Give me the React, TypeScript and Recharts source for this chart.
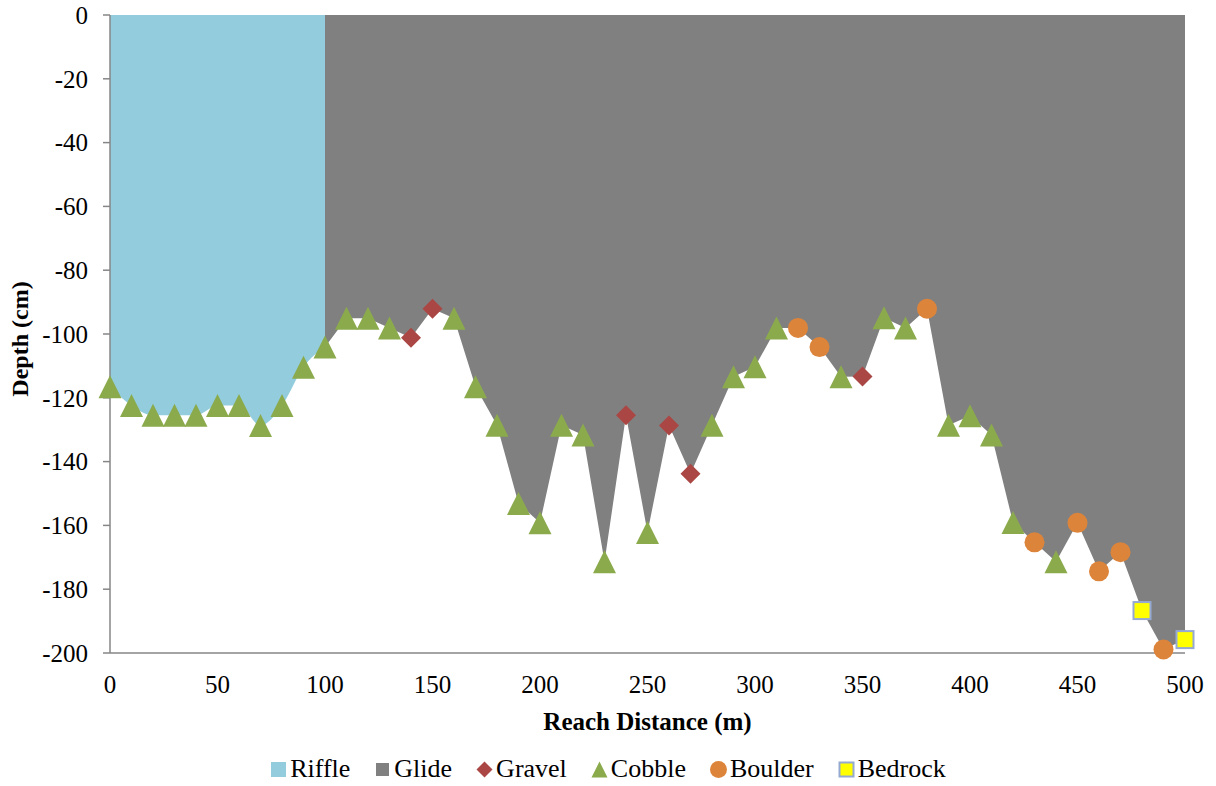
import React from "react"
import { ComposedChart, Area, Scatter, XAxis, YAxis, Legend, Label } from "recharts"

// survey stations along the reach (m)
const distance = [
  0, 10, 20, 30, 40, 50, 60, 70, 80, 90, 100, 110, 120, 130, 140, 150, 160,
  170, 180, 190, 200, 210, 220, 230, 240, 250, 260, 270, 280, 290, 300, 310,
  320, 330, 340, 350, 360, 370, 380, 390, 400, 410, 420, 430, 440, 450, 460,
  470, 480, 490, 500,
]

// water depth at each station (cm, negative = below surface)
const depth = [
  -116.5, -122.4, -125.5, -125.5, -125.5, -122.4, -122.4, -128.7, -122.4,
  -110.4, -104.1, -95.1, -95.1, -98.1, -101.2, -92.1, -95.1, -116.5, -128.6,
  -153.1, -159.2, -128.6, -131.7, -171.4, -125.5, -162.2, -128.7, -143.8,
  -128.6, -113.4, -110.3, -98.1, -98.1, -104.1, -113.4, -113.3, -94.9, -98.1,
  -92.1, -128.6, -125.6, -131.7, -159.1, -165.3, -171.4, -159.2, -174.4,
  -168.4, -186.7, -198.9, -195.8,
]

// bed material at each station
const substrate = [
  "Cobble", "Cobble", "Cobble", "Cobble", "Cobble", "Cobble", "Cobble",
  "Cobble", "Cobble", "Cobble", "Cobble", "Cobble", "Cobble", "Cobble",
  "Gravel", "Gravel", "Cobble", "Cobble", "Cobble", "Cobble", "Cobble",
  "Cobble", "Cobble", "Cobble", "Gravel", "Cobble", "Gravel", "Gravel",
  "Cobble", "Cobble", "Cobble", "Cobble", "Boulder", "Boulder", "Cobble",
  "Gravel", "Cobble", "Cobble", "Boulder", "Cobble", "Cobble", "Cobble",
  "Cobble", "Boulder", "Cobble", "Boulder", "Boulder", "Boulder", "Bedrock",
  "Boulder", "Bedrock",
]

const riffleEnd = 100 // riffle runs 0-100 m, glide after that

const xTicks = [0, 50, 100, 150, 200, 250, 300, 350, 400, 450, 500]
const yTicks = [0, -20, -40, -60, -80, -100, -120, -140, -160, -180, -200]

const FONT = "'Liberation Serif', 'Times New Roman', serif"
const AXIS = "#868686"

const COLORS = {
  Riffle: "#93CDDD",
  Glide: "#808080",
  Gravel: "#AA4643",
  Cobble: "#8BAA4C",
  Boulder: "#DD843B",
  Bedrock: "#FFFF00",
}

const rows = distance.map((x, i) => ({
  x,
  riffle: x <= riffleEnd ? depth[i] : null,
  glide: x >= riffleEnd ? depth[i] : null,
}))

const pointsFor = (kind: string) =>
  distance
    .map((x, i) => ({ x, y: depth[i], kind: substrate[i] }))
    .filter((p) => p.kind === kind)

// marker shapes; `half` is half the marker width in px
const Diamond = ({ cx, cy, half = 10 }: any) => (
  <path
    d={`M${cx},${cy - half} L${cx + half},${cy} L${cx},${cy + half} L${cx - half},${cy} Z`}
    fill={COLORS.Gravel}
  />
)

const Triangle = ({ cx, cy, half = 11.5 }: any) => (
  <path
    d={`M${cx},${cy - half} L${cx + half},${cy + half} L${cx - half},${cy + half} Z`}
    fill={COLORS.Cobble}
  />
)

const Dot = ({ cx, cy, half = 10 }: any) => (
  <circle cx={cx} cy={cy} r={half} fill={COLORS.Boulder} />
)

const Square = ({ cx, cy, half = 8.5 }: any) => (
  <rect
    x={cx - half}
    y={cy - half}
    width={half * 2}
    height={half * 2}
    fill={COLORS.Bedrock}
    stroke="#95A9D3"
    strokeWidth={2}
  />
)

const legendItems = [
  { name: "Riffle", icon: <rect x={1} y={1} width={15} height={15} fill={COLORS.Riffle} /> },
  { name: "Glide", icon: <rect x={2} y={2} width={13} height={13} fill={COLORS.Glide} /> },
  { name: "Gravel", icon: <Diamond cx={8.5} cy={8.5} half={8} /> },
  { name: "Cobble", icon: <Triangle cx={8.5} cy={8.5} half={8} /> },
  { name: "Boulder", icon: <Dot cx={8.5} cy={8.5} half={8.5} /> },
  { name: "Bedrock", icon: <Square cx={8.5} cy={8.5} half={7} /> },
]

const SubstrateLegend = () => (
  <div
    style={{
      display: "flex",
      justifyContent: "center",
      alignItems: "center",
      gap: 24,
      fontFamily: FONT,
      fontSize: 26,
      color: "#000",
    }}
  >
    {legendItems.map((item) => (
      <span key={item.name} style={{ display: "flex", alignItems: "center", gap: 3 }}>
        <svg width={17} height={17}>
          {item.icon}
        </svg>
        <span>{item.name}</span>
      </span>
    ))}
  </div>
)

const DepthLabel = () => (
  <text
    x={20}
    y={339}
    transform="rotate(-90, 20, 339)"
    textAnchor="middle"
    dominantBaseline="central"
    fontFamily={FONT}
    fontSize={24}
    fontWeight="bold"
    fill="#000"
  >
    Depth (cm)
  </text>
)

const tickStyle = { fontFamily: FONT, fontSize: 25, fill: "#000" }

export default function App() {
  return (
    <div style={{ position: "absolute", left: 0, top: 0 }}>
      <ComposedChart
        width={1216}
        height={786}
        data={rows}
        margin={{ top: 15, right: 31, bottom: 43, left: 0 }}
      >
        <XAxis
          dataKey="x"
          type="number"
          domain={[0, 500]}
          ticks={xTicks}
          interval={0}
          height={90}
          stroke={AXIS}
          strokeWidth={1.5}
          tickLine={false}
          tickSize={6}
          tickMargin={16}
          tick={tickStyle}
        >
          <Label
            value="Reach Distance (m)"
            position="insideBottom"
            offset={13}
            style={{ fontFamily: FONT, fontSize: 25, fontWeight: "bold", fill: "#000" }}
          />
        </XAxis>
        <YAxis
          type="number"
          domain={[-200, 0]}
          ticks={yTicks}
          interval={0}
          width={110}
          stroke={AXIS}
          strokeWidth={1.5}
          tickSize={7}
          tickMargin={15}
          tick={tickStyle}
          label={<DepthLabel />}
        />
        <Area
          dataKey="riffle"
          type="monotone"
          stroke="none"
          fill={COLORS.Riffle}
          fillOpacity={1}
          isAnimationActive={false}
        />
        <Area
          dataKey="glide"
          type="linear"
          stroke="none"
          fill={COLORS.Glide}
          fillOpacity={1}
          isAnimationActive={false}
        />
        <Scatter data={pointsFor("Gravel")} dataKey="y" shape={<Diamond />} isAnimationActive={false} />
        <Scatter data={pointsFor("Cobble")} dataKey="y" shape={<Triangle />} isAnimationActive={false} />
        <Scatter data={pointsFor("Boulder")} dataKey="y" shape={<Dot />} isAnimationActive={false} />
        <Scatter data={pointsFor("Bedrock")} dataKey="y" shape={<Square />} isAnimationActive={false} />
        <Legend
          verticalAlign="middle"
          align="center"
          content={<SubstrateLegend />}
          wrapperStyle={{ top: 754, left: 0, width: 1216 }}
        />
      </ComposedChart>
    </div>
  )
}
